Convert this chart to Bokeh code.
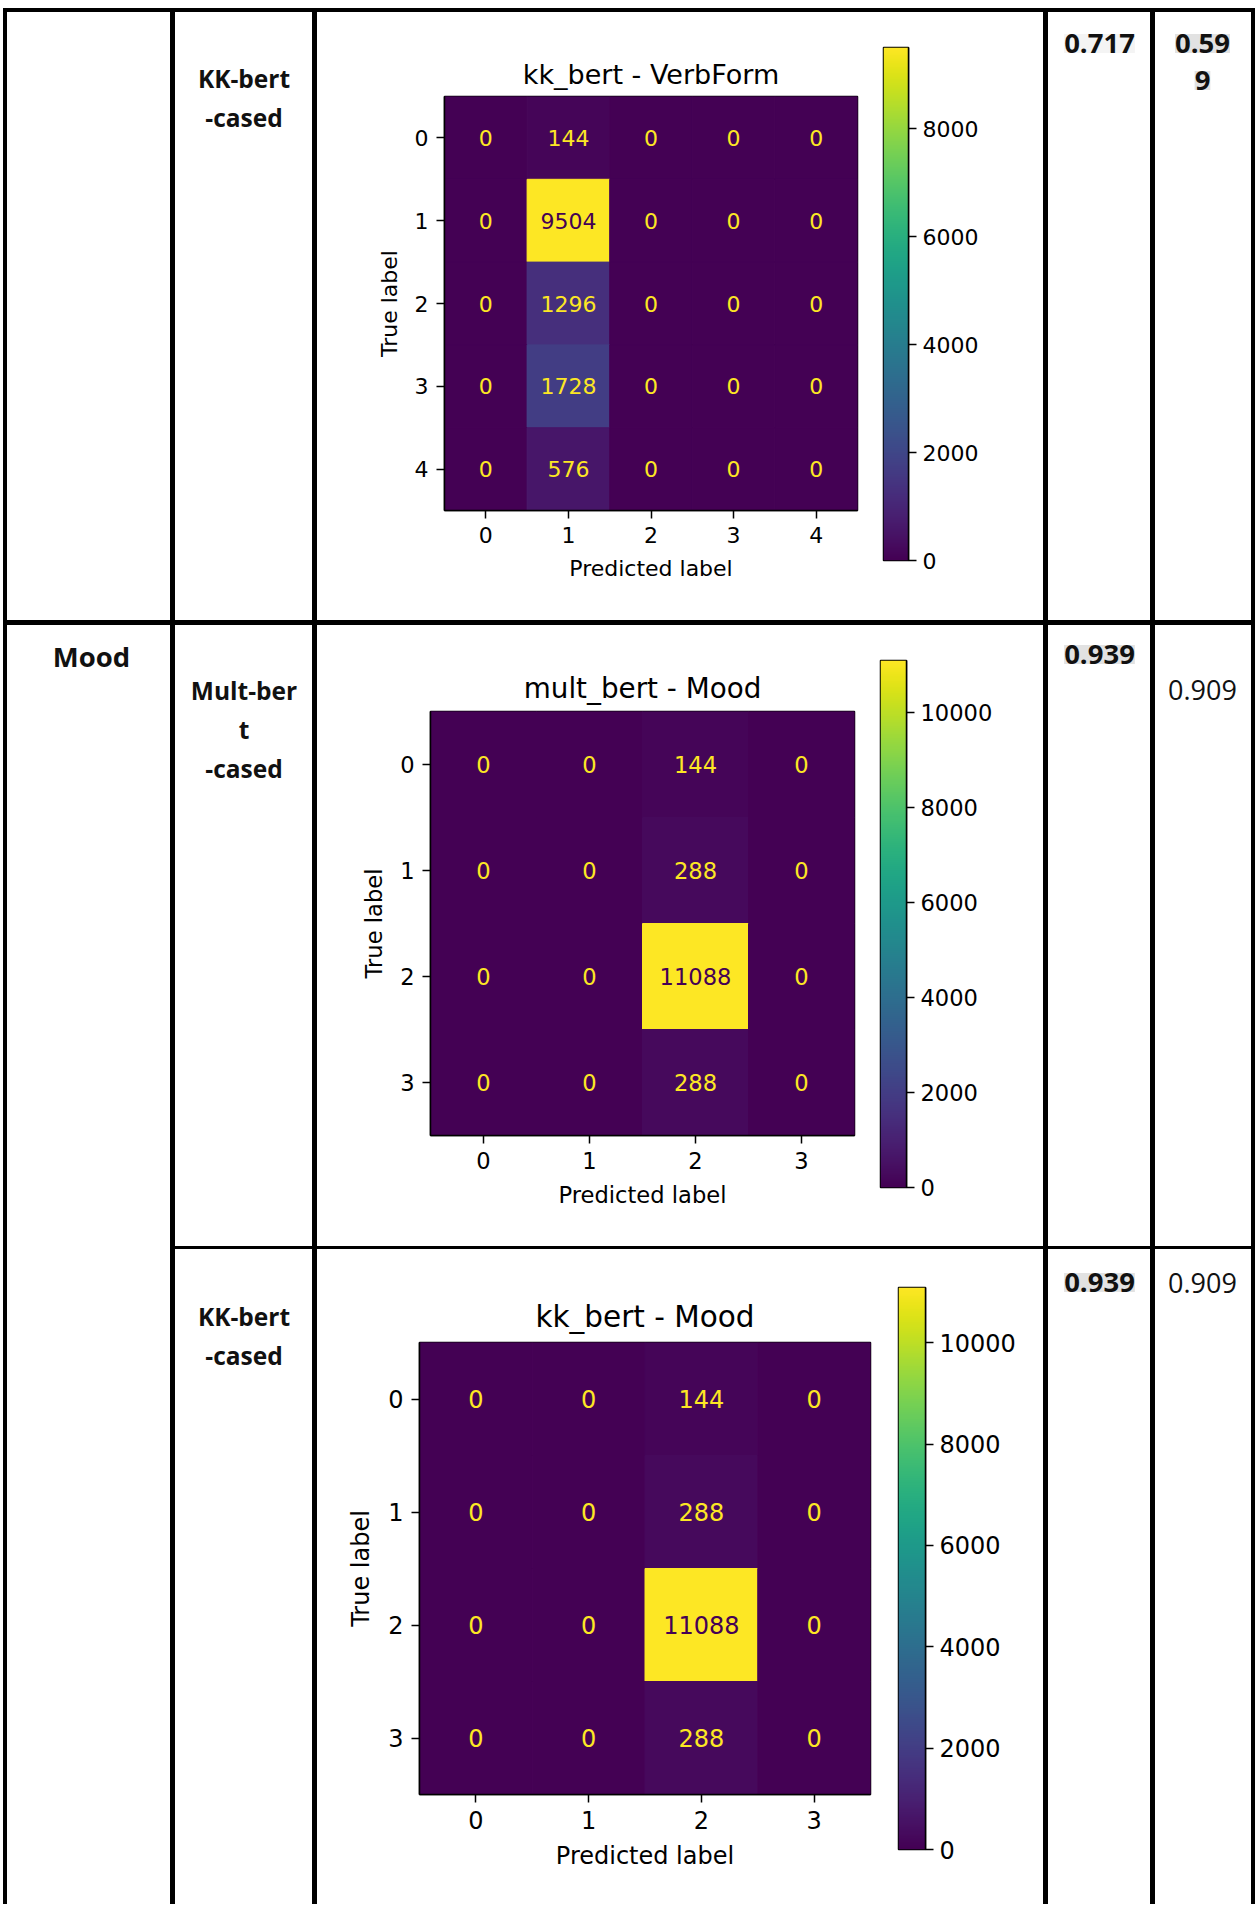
import numpy as np
from bokeh.plotting import figure
from bokeh.models import (GridBox, Row, Div, ColumnDataSource, LinearColorMapper,
                          FixedTicker, Range1d)
from bokeh.palettes import Viridis256
from bokeh.core.properties import value
from bokeh.embed import file_html
from bokeh.resources import INLINE

# ---------------- data ----------------
feature_names = ["", "Mood"]
model_names = [["KK-bert", "-cased"], ["Mult-ber", "t", "-cased"], ["KK-bert", "-cased"]]
plot_titles = ["kk_bert - VerbForm", "mult_bert - Mood", "kk_bert - Mood"]
accuracy = ["0.717", "0.939", "0.939"]
f1_score = [["0.59", "9"], ["0.909"], ["0.909"]]
labels_verbform = ["0", "1", "2", "3", "4"]
labels_mood = ["0", "1", "2", "3"]
cm_kk_verbform = [[0, 144, 0, 0, 0],
                  [0, 9504, 0, 0, 0],
                  [0, 1296, 0, 0, 0],
                  [0, 1728, 0, 0, 0],
                  [0, 576, 0, 0, 0]]
cm_mult_mood = [[0, 0, 144, 0],
                [0, 0, 288, 0],
                [0, 0, 11088, 0],
                [0, 0, 288, 0]]
cm_kk_mood = [[0, 0, 144, 0],
              [0, 0, 288, 0],
              [0, 0, 11088, 0],
              [0, 0, 288, 0]]
cbar_ticks_verbform = [0, 2000, 4000, 6000, 8000]
cbar_ticks_mood = [0, 2000, 4000, 6000, 8000, 10000]

# ---------------- layout constants ----------------
COLW = [4, 163, 5, 137, 5, 726, 5, 102, 5, 96, 4]
ROWH = [4, 608, 5, 621, 3, 655]
TXT_FONT = "Open Sans"
MPL_FONT = "DejaVu Sans"
CMAP_MIN = Viridis256[0]
CMAP_MAX = Viridis256[-1]


def rule(w, h):
    return Div(text="", width=w, height=h, margin=(0, 0, 0, 0),
               styles={"background-color": "#000000"})


def blank(w, h, color="white"):
    p = figure(width=w, height=h, x_range=Range1d(0, w), y_range=Range1d(h, 0),
               output_backend="svg", toolbar_location=None,
               x_axis_type=None, y_axis_type=None, min_border=0,
               background_fill_color=color, border_fill_color=color,
               outline_line_color=None)
    p.title = None
    p.frame_align = False
    return p


def text_cell(w, h, lines, ys, size, bold=True, bg=None, cx=None):
    p = blank(w, h)
    if cx is None:
        cx = w / 2.0
    if lines:
        src = ColumnDataSource(dict(x=[cx] * len(lines), y=ys, t=lines))
        kw = {}
        if bg is not None:
            kw = dict(background_fill_color=bg)
        p.text(x="x", y="y", text="t", source=src, text_align="center",
               text_baseline="middle", text_font=value(TXT_FONT),
               text_font_size=f"{size}px",
               text_font_style="bold" if bold else "normal",
               text_color="#111111", **kw)
    return p


def heatmap(cm, labels, title, w, h, left, top, fw, fh, fs, tfs, standoff):
    n = len(labels)
    vmax = max(max(r) for r in cm)
    mapper = LinearColorMapper(palette=Viridis256, low=0, high=vmax)
    xs, ys, vs, ts, tc = [], [], [], [], []
    thresh = vmax / 2.0
    for i in range(n):
        for j in range(n):
            v = cm[i][j]
            xs.append(j)
            ys.append(i)
            vs.append(v)
            ts.append(str(v))
            tc.append(CMAP_MIN if v > thresh else CMAP_MAX)
    src = ColumnDataSource(dict(x=xs, y=ys, v=vs, t=ts, c=tc))
    p = figure(width=w, height=h, x_range=Range1d(-0.5, n - 0.5),
               y_range=Range1d(n - 0.5, -0.5), output_backend="svg",
               toolbar_location=None, title=title,
               min_border_left=left, min_border_top=top,
               min_border_right=w - left - fw, min_border_bottom=h - top - fh,
               background_fill_color="white", border_fill_color="white")
    p.frame_align = False
    p.rect(x="x", y="y", width=1, height=1, source=src,
           fill_color={"field": "v", "transform": mapper},
           line_color={"field": "v", "transform": mapper}, line_width=1)
    p.text(x="x", y="y", text="t", source=src, text_color="c",
           text_align="center", text_baseline="middle",
           text_font=value(MPL_FONT), text_font_size=f"{fs}px")
    p.grid.visible = False
    p.outline_line_color = "black"
    p.outline_line_width = 1.5
    p.title.align = "center"
    p.title.text_font = MPL_FONT
    p.title.text_font_size = f"{tfs}px"
    p.title.text_font_style = "normal"
    p.title.text_color = "black"
    p.title.standoff = standoff
    for ax, lab in ((p.xaxis, "Predicted label"), (p.yaxis, "True label")):
        ax.ticker = FixedTicker(ticks=list(range(n)))
        ax.major_label_overrides = {i: s for i, s in enumerate(labels)}
        ax.axis_label = lab
        ax.axis_label_text_font = MPL_FONT
        ax.axis_label_text_font_style = "normal"
        ax.axis_label_text_font_size = f"{fs}px"
        ax.axis_label_text_color = "black"
        ax.axis_label_standoff = 10
        ax.major_label_text_font = MPL_FONT
        ax.major_label_text_font_size = f"{fs}px"
        ax.major_label_text_color = "black"
        ax.major_label_standoff = 8
        ax.major_tick_out = 8
        ax.major_tick_in = 0
        ax.major_tick_line_color = "black"
        ax.major_tick_line_width = 1.5
        ax.minor_tick_line_color = None
        ax.axis_line_color = "black"
        ax.axis_line_width = 1.5
    p.yaxis.major_label_orientation = "horizontal"
    return p, mapper, vmax


def colorbar(mapper, vmax, ticks, w, h, left, top, fw, fh, fs):
    p = figure(width=w, height=h, x_range=Range1d(0, 1), y_range=Range1d(0, vmax),
               output_backend="svg", toolbar_location=None,
               x_axis_type=None, y_axis_location="right",
               min_border_left=left, min_border_top=top,
               min_border_right=w - left - fw, min_border_bottom=h - top - fh,
               background_fill_color="white", border_fill_color="white")
    p.title = None
    p.frame_align = False
    grad = np.linspace(0, vmax, 512).reshape(-1, 1)
    p.image(image=[grad], x=0, y=0, dw=1, dh=vmax, color_mapper=mapper)
    p.grid.visible = False
    p.outline_line_color = "black"
    p.outline_line_width = 1.5
    ax = p.yaxis
    ax.ticker = FixedTicker(ticks=ticks)
    ax.major_label_text_font = MPL_FONT
    ax.major_label_text_font_size = f"{fs}px"
    ax.major_label_text_color = "black"
    ax.major_label_standoff = 6
    ax.major_tick_out = 8
    ax.major_tick_in = 0
    ax.major_tick_line_color = "black"
    ax.major_tick_line_width = 1.5
    ax.minor_tick_line_color = None
    ax.axis_line_color = "black"
    ax.axis_line_width = 1.5
    return p


def hm_cell(cm, labels, title, ticks, h, split, left, top, fw, fh,
            cb_left, cb_top, cb_w, cb_h, fs, tfs, standoff):
    cw = COLW[5]
    hm, mapper, vmax = heatmap(cm, labels, title, split, h, left, top, fw, fh, fs, tfs, standoff)
    cb = colorbar(mapper, vmax, ticks, cw - split, h, cb_left, cb_top, cb_w, cb_h, fs)
    return Row(children=[hm, cb], spacing=0)


children = []
# horizontal rules
children.append((rule(sum(COLW), ROWH[0]), 0, 0, 1, 11))
children.append((rule(sum(COLW), ROWH[2]), 2, 0, 1, 11))
children.append((rule(sum(COLW[2:]), ROWH[4]), 4, 2, 1, 9))
# vertical rules
for c in [0, 2, 4, 6, 8, 10]:
    children.append((rule(COLW[c], ROWH[1]), 1, c))
children.append((rule(COLW[0], ROWH[3] + ROWH[4] + ROWH[5]), 3, 0, 3, 1))
for c in [2, 4, 6, 8, 10]:
    children.append((rule(COLW[c], ROWH[3]), 3, c))
    children.append((rule(COLW[c], ROWH[5]), 5, c))

# feature column
children.append((text_cell(COLW[1], ROWH[1], [], [], 27), 1, 1))
children.append((text_cell(COLW[1], ROWH[3] + ROWH[4] + ROWH[5], [feature_names[1]], [31], 27.5,
                           cx=84), 3, 1, 3, 1))

# model column
model_y = [[66, 105], [65, 104, 143], [67, 106]]
for k, r in enumerate([1, 3, 5]):
    children.append((text_cell(COLW[3], ROWH[r], model_names[k], model_y[k], 24.5), r, 3))

# heatmaps
children.append((hm_cell(cm_kk_verbform, labels_verbform, plot_titles[0], cbar_ticks_verbform,
                         ROWH[1], 553, 127, 84, 413, 414, 13, 35, 25, 513, 22, 27, 14), 1, 5))
children.append((hm_cell(cm_mult_mood, labels_mood, plot_titles[1], cbar_ticks_mood,
                         ROWH[3], 550, 113, 86, 424, 424, 13, 35, 26, 527, 22.6, 27.8, 13), 3, 5))
children.append((hm_cell(cm_kk_mood, labels_mood, plot_titles[2], cbar_ticks_mood,
                         ROWH[5], 567, 102, 93, 451, 452, 14, 38, 27, 562, 24, 29.5, 17), 5, 5))

# accuracy column
acc_y = [31, 29, 33]
acc_bg = ["#f4f4f4", "#e2e2e2", "#e2e2e2"]
for k, r in enumerate([1, 3, 5]):
    children.append((text_cell(COLW[7], ROWH[r], [accuracy[k]], [acc_y[k]], 27.5,
                               bold=True, bg=acc_bg[k]), r, 7))

# f1 column
f1_y = [[31, 68], [64], [33]]
f1_bold = [True, False, False]
f1_bg = ["#e2e2e2", None, None]
for k, r in enumerate([1, 3, 5]):
    children.append((text_cell(COLW[9], ROWH[r], f1_score[k], f1_y[k], 27.5 if f1_bold[k] else 27,
                               bold=f1_bold[k], bg=f1_bg[k], cx=47), r, 9))

grid = GridBox(children=children, spacing=0,
               rows=[f"{h}px" for h in ROWH], cols=[f"{w}px" for w in COLW],
               margin=(8, 0, 0, 3))

open("out.html", "w").write(file_html(grid, INLINE))
